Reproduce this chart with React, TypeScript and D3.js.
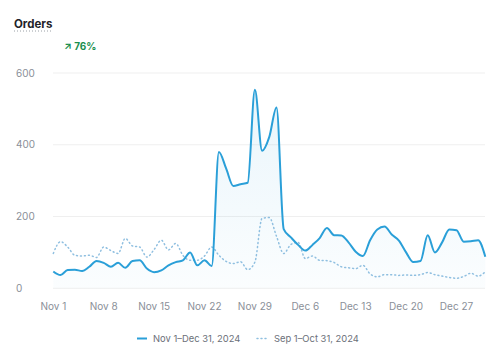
import React from "react";
import * as d3 from "d3";

const currentLabel = "Nov 1–Dec 31, 2024";
const previousLabel = "Sep 1–Oct 31, 2024";
const startDate = new Date(2024, 10, 1);
const yTicks = [0, 200, 400, 600];
const xTickLabels = ["Nov 1", "Nov 8", "Nov 15", "Nov 22", "Nov 29", "Dec 6", "Dec 13", "Dec 20", "Dec 27"];

const currentValues = [
  47, 37, 51, 52, 48, 60, 76, 71, 60, 71, 57, 76, 78, 55, 45, 50, 64, 73, 78, 100,
  64, 78, 62, 380, 334, 285, 290, 294, 553, 383, 422, 504, 165, 142, 121, 105, 121, 140, 168, 148,
  147, 128, 102, 90, 134, 164, 172, 150, 133, 100, 73, 76, 148, 100, 128, 164, 162, 130, 131, 134,
  88,
];
const previousValues = [
  97, 130, 115, 92, 90, 92, 86, 115, 105, 97, 139, 118, 115, 87, 108, 134, 107, 125, 92, 78,
  78, 90, 115, 92, 75, 69, 74, 52, 73, 195, 197, 145, 97, 122, 128, 83, 90, 78, 77, 72,
  60, 57, 55, 64, 40, 32, 38, 38, 36, 37, 36, 38, 44, 38, 34, 30, 28, 33, 42, 34,
  46,
];

const W = 500;
const H = 357;
const FONT = "Inter, 'Noto Sans', sans-serif";

export default function App() {
  const x = d3
    .scaleLinear()
    .domain([0, currentValues.length - 1])
    .range([53.3, 485.3]);
  const y = d3.scaleLinear().domain([0, 600]).range([288.3, 73]);
  const dayIndex = (d: Date) => Math.round((d.getTime() - startDate.getTime()) / 86400000);
  const tickDates = xTickLabels.map((_, i) => d3.timeDay.offset(startDate, i * 7));

  const line = d3
    .line<number>()
    .x((_, i) => x(i))
    .y((d) => y(d))
    .curve(d3.curveMonotoneX);
  const area = d3
    .area<number>()
    .x((_, i) => x(i))
    .y0(y(0))
    .y1((d) => y(d))
    .curve(d3.curveMonotoneX);

  return (
    <svg
      width={W}
      height={H}
      style={{ position: "absolute", left: 0, top: 0, background: "#fff" }}
      fontFamily={FONT}
    >
      <defs>
        <linearGradient id="fillGrad" x1="0" y1="0" x2="0" y2="1">
          <stop offset="0%" stopColor="#2a9fd8" stopOpacity={0.1} />
          <stop offset="100%" stopColor="#2a9fd8" stopOpacity={0.02} />
        </linearGradient>
      </defs>
      <text x={14} y={27.5} fontSize={11.5} fontWeight={700} fill="#1f2328">
        Orders
      </text>
      <line x1={14} x2={51} y1={31} y2={31} stroke="#9aa0a6" strokeWidth={1} strokeDasharray="1 2" />
      <text x={64} y={49.5} fontSize={10} fontWeight={700} fill="#1a8f4e">
        ↗ 76%
      </text>

      {yTicks.map((t) => (
        <g key={t}>
          <line x1={53} x2={485} y1={y(t)} y2={y(t)} stroke="#efefef" strokeWidth={1} />
          <text x={16} y={y(t)} dy="0.35em" fontSize={10} fill="#8a8f98">
            {t}
          </text>
        </g>
      ))}

      {tickDates.map((d, i) => (
        <text
          key={i}
          x={x(dayIndex(d))}
          y={310}
          textAnchor="middle"
          fontSize={10}
          fill="#8a8f98"
        >
          {xTickLabels[i]}
        </text>
      ))}

      <path d={area(currentValues) || ""} fill="url(#fillGrad)" />
      <path
        d={line(previousValues) || ""}
        fill="none"
        stroke="#8fbfe0"
        strokeWidth={1.5}
        strokeDasharray="1 3"
        strokeLinecap="round"
      />
      <path d={line(currentValues) || ""} fill="none" stroke="#2a9fd8" strokeWidth={2} />

      <line x1={137} x2={147} y1={338.5} y2={338.5} stroke="#2a9fd8" strokeWidth={2} />
      <text x={153} y={338.5} dy="0.35em" fontSize={9.4} fill="#6b7079">
        {currentLabel}
      </text>
      <line
        x1={257}
        x2={267}
        y1={338.5}
        y2={338.5}
        stroke="#8fbfe0"
        strokeWidth={1.5}
        strokeDasharray="1 3"
        strokeLinecap="round"
      />
      <text x={274} y={338.5} dy="0.35em" fontSize={9.4} fill="#6b7079">
        {previousLabel}
      </text>
    </svg>
  );
}
